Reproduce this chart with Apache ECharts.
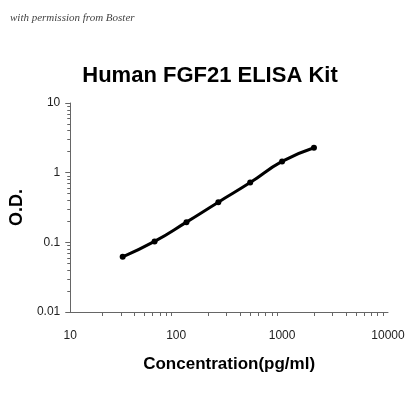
<!DOCTYPE html><html><head><meta charset="utf-8"><script src="https://cdn.jsdelivr.net/npm/echarts@6/dist/echarts.min.js"></script></head><body style="margin:0;background:#fff"><div id="c" style="width:420px;height:420px"></div><script>
var conc=[31.25,62.5,125,250,500,1000,2000];
var od=[0.062,0.103,0.195,0.377,0.72,1.45,2.28];
var c=echarts.init(document.getElementById('c'));
c.setOption({animation:false,backgroundColor:'#fff',
graphic:[{type:'text',left:10,top:13,style:{text:'with permission from Boster',font:'italic 11px "Liberation Serif"',fill:'#444'}}],
title:{text:'Human FGF21 ELISA Kit',left:'center',top:60,textStyle:{fontFamily:'Liberation Sans',fontSize:22,fontWeight:'bold',color:'#000'}},
grid:{left:62,right:32,top:103,bottom:108},
xAxis:{type:'log',min:10,max:10000,logBase:10,name:'Concentration(pg/ml)',nameLocation:'middle',nameGap:44,nameTextStyle:{fontFamily:'Liberation Sans',fontSize:17,fontWeight:'bold',color:'#000'},
axisLine:{lineStyle:{color:'#666'}},axisTick:{show:false},minorTick:{show:true,splitNumber:9,length:4,lineStyle:{color:'#666'}},splitLine:{show:false},
axisLabel:{color:'#222',fontSize:12,margin:18,fontFamily:'Liberation Sans',formatter:function(v){return String(v);}}},
yAxis:{type:'log',min:0.01,max:10,logBase:10,name:'O.D.',nameLocation:'middle',nameGap:42,nameTextStyle:{fontFamily:'Liberation Sans',fontSize:18,fontWeight:'bold',color:'#000'},
axisLine:{show:true,lineStyle:{color:'#666'}},axisTick:{show:true,length:5,lineStyle:{color:'#666'}},minorTick:{show:true,splitNumber:9,length:3,lineStyle:{color:'#666'}},splitLine:{show:false},
axisLabel:{color:'#222',fontSize:12,margin:10,fontFamily:'Liberation Sans',formatter:function(v){return String(v);}}},
series:[{type:'line',data:conc.map(function(x,i){return [x,od[i]];}),smooth:0.5,symbol:'circle',symbolSize:6,lineStyle:{color:'#000',width:3},itemStyle:{color:'#000'}}]
});
</script></body></html>
